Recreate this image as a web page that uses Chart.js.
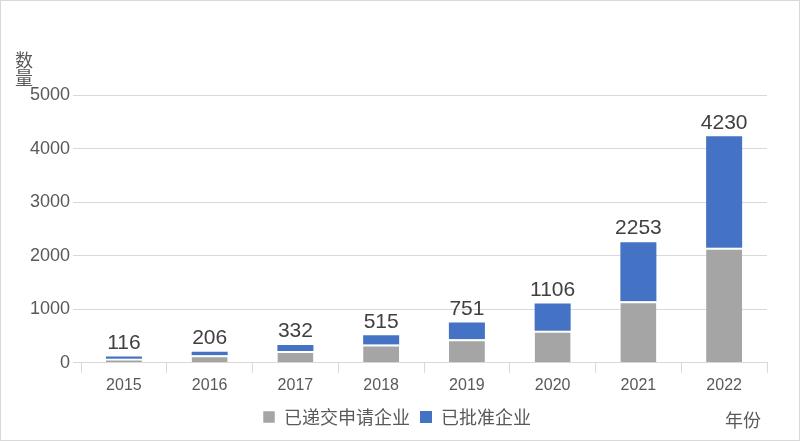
<!DOCTYPE html><html><head><meta charset="utf-8">
<script src="https://cdn.jsdelivr.net/npm/chart.js@4"></script>
<style>body{margin:0;background:#fff}#w{position:relative;width:798px;height:439px;border:1px solid #d9d9d9}
.t{position:absolute;font-family:"Noto Sans CJK SC";font-size:18px;color:#595959}</style></head><body>
<div id="w"><canvas id="c" width="798" height="439"></canvas>
<div class="t" style="left:10px;top:50px;writing-mode:vertical-rl;">数量</div>
<div class="t" style="left:724px;top:405px;">年份</div></div>
<script>
const years=['2015','2016','2017','2018','2019','2020','2021','2022'];
const totals=[116,206,332,515,751,1106,2253,4230];
const submitted=[75,140,220,340,440,600,1150,2150];
const approved=totals.map((t,i)=>t-submitted[i]);
const lbl={id:'lbl',afterDatasetsDraw(ch){const c=ch.ctx,m=ch.getDatasetMeta(1);c.save();c.font='21px "Liberation Sans"';c.fillStyle='#404040';c.textAlign='center';c.textBaseline='bottom';
m.data.forEach((b,i)=>c.fillText(totals[i],b.x,b.y-3));c.restore();}};
new Chart(document.getElementById('c'),{type:'bar',data:{labels:years,datasets:[
{label:'已递交申请企业',data:submitted,backgroundColor:'#a5a5a5',borderColor:'#fff',borderWidth:{top:2},borderSkipped:'bottom',categoryPercentage:1,barPercentage:0.42},
{label:'已批准企业',data:approved,backgroundColor:'#4472c4',borderColor:'#fff',borderWidth:0,categoryPercentage:1,barPercentage:0.42}]},
options:{responsive:false,animation:false,layout:{padding:{left:26,right:32,top:94,bottom:4}},
plugins:{legend:{position:'bottom',labels:{boxWidth:12,boxHeight:12,font:{family:'"Noto Sans CJK SC"',size:18},color:'#595959'}},tooltip:{enabled:false}},
scales:{x:{stacked:true,grid:{offset:true,drawOnChartArea:false,tickLength:10,color:'#d9d9d9'},border:{color:'#d9d9d9'},ticks:{font:{family:'"Liberation Sans"',size:16},color:'#595959'}},
y:{stacked:true,min:0,max:5000,ticks:{stepSize:1000,callback:v=>String(v),font:{family:'"Liberation Sans"',size:18},color:'#595959'},grid:{color:'#d9d9d9'},border:{display:false}}}},plugins:[lbl]});
</script></body></html>
